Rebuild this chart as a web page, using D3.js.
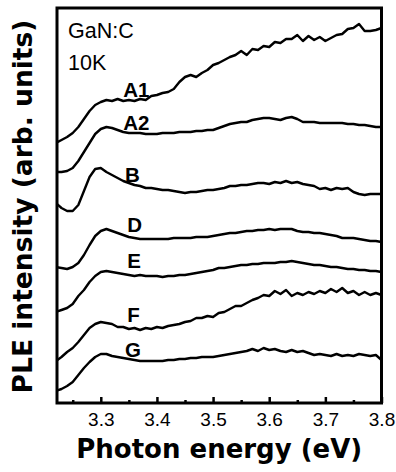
<!DOCTYPE html>
<html>
<head>
<meta charset="utf-8">
<script src="https://cdn.jsdelivr.net/npm/d3@7"></script>
<style>
  body { margin: 0; background: #fff; }
</style>
</head>
<body>
<div id="chart"></div>
<script>
// photon energy grid (eV), 0.01 step
const energy = d3.range(59).map((i) => +(3.22 + i * 0.01).toFixed(2));

// PLE intensity (arb. units, curves offset vertically as in the figure)
const A1 = [257,260,263,267,273,281,289,295,298,300, 299,301,299,300,299,301,300,304,305,307,
  308,311,318,323,325,323,327,330,335,337, 340,343,345,349,345,351,350,354,353,358,
  357,361,361,365,359,364,360,363,359,362, 365,366,371,372,376,369,369,370,372];
const A2 = [228,228,229,232,239,248,257,266,271,273, 272,270,268,267,267,267,266,266,266,267,
  267,267,268,268,268,269,269,270,270,272, 274,276,277,278,278,280,281,282,282,281,
  280,282,283,281,278,278,278,277,277,277, 277,277,276,276,275,275,274,273,273];
const B = [197,192,189,189,195,209,223,231,232,228, 225,222,219,217,215,214,212,212,211,210,
  210,209,208,207,208,208,209,210,210,211, 212,214,214,215,215,216,217,217,216,218,
  217,219,217,218,216,215,214,211,212,210, 212,211,212,208,206,205,206,206,206];
const D = [133,132,131,133,137,145,155,164,169,171, 169,167,165,163,162,161,161,161,161,161,
  161,162,162,162,162,163,163,163,164,165, 166,167,167,168,169,169,170,170,171,170,
  171,171,171,169,168,168,167,167,166,165, 164,162,162,162,161,160,159,159,158];
const E = [88,90,92,96,104,110,118,124,128,129, 128,127,126,125,124,125,124,124,124,123,
  124,124,125,125,126,127,128,129,130,132, 132,133,134,135,135,136,136,137,137,137,
  138,138,139,138,137,136,135,135,134,133, 133,132,131,131,130,130,129,129,128];
const F = [39,43,48,52,58,65,72,76,78,77, 76,73,73,71,72,70,72,71,73,72,
  74,75,76,78,79,82,82,84,83,87, 88,91,94,94,97,100,102,105,104,109,
  106,110,104,107,105,108,106,109,107,111, 108,112,107,109,105,108,105,107,105];
const G = [9,11,14,18,25,32,38,43,46,46, 44,43,42,41,40,39,39,39,39,39,
  40,40,41,41,42,42,43,43,43,44, 45,46,47,48,49,51,49,52,50,51,
  49,48,50,48,49,47,45,46,45,44, 46,44,45,44,46,45,44,45,40];

const sampleNames = ['A1', 'A2', 'B', 'D', 'E', 'F', 'G'];
const sampleSeries = [A1, A2, B, D, E, F, G];
// label anchor: energy and intensity
const labelEnergy = [3.34, 3.34, 3.343, 3.347, 3.347, 3.347, 3.343];
const labelLevel = [303, 270, 218, 168, 132, 78, 43];

const xTicks = [3.3, 3.4, 3.5, 3.6, 3.7, 3.8];
const xMinorTicks = [3.25, 3.35, 3.45, 3.55, 3.65, 3.75];

const width = 396;
const height = 472;
const plotLeft = 57, plotRight = 381.5, plotTop = 8, plotBottom = 403;

const svg = d3.select('#chart').append('svg').attr('width', width).attr('height', height);

const x = d3.scaleLinear().domain([3.222, 3.8]).range([plotLeft, plotRight]);
const y = d3.scaleLinear().domain([-3, 392]).range([plotBottom, plotTop]);

svg.append('clipPath').attr('id', 'plot-clip')
  .append('rect').attr('x', plotLeft).attr('y', plotTop)
  .attr('width', plotRight - plotLeft).attr('height', plotBottom - plotTop);

const line = d3.line().x((d) => x(d[0])).y((d) => y(d[1]));

svg.append('g').attr('clip-path', 'url(#plot-clip)')
  .selectAll('path')
  .data(sampleSeries)
  .join('path')
  .attr('fill', 'none')
  .attr('stroke', '#000')
  .attr('stroke-width', 2.4)
  .attr('stroke-linejoin', 'round')
  .attr('d', (s) => line(s.map((v, i) => [energy[i], v])));

svg.append('g')
  .attr('font-family', 'Liberation Sans, Arial, sans-serif')
  .attr('font-weight', 'bold')
  .attr('font-size', 20.5)
  .selectAll('text')
  .data(sampleNames)
  .join('text')
  .attr('x', (d, i) => x(labelEnergy[i]))
  .attr('y', (d, i) => y(labelLevel[i]))
  .text((d) => d);

// bottom axis, ticks pointing inward
const axisMajor = d3.axisBottom(x).tickValues(xTicks).tickSize(-6).tickPadding(9.5).tickFormat(d3.format('.1f'));
const axisMinor = d3.axisBottom(x).tickValues(xMinorTicks).tickSize(-3).tickFormat('');

const gx = svg.append('g').attr('transform', `translate(0,${plotBottom})`).call(axisMajor);
svg.append('g').attr('transform', `translate(0,${plotBottom})`).call(axisMinor)
  .call((g) => g.select('.domain').remove())
  .selectAll('line').attr('stroke-width', 2.5);
gx.select('.domain').remove();
gx.selectAll('line').attr('stroke-width', 2.5);
gx.selectAll('text').attr('font-size', 19).attr('font-family', 'Liberation Sans, Arial, sans-serif').attr('fill', '#000');

svg.append('rect')
  .attr('x', plotLeft).attr('y', plotTop)
  .attr('width', plotRight - plotLeft).attr('height', plotBottom - plotTop)
  .attr('fill', 'none').attr('stroke', '#000').attr('stroke-width', 3);

const note = svg.append('g').attr('font-family', 'Liberation Sans, Arial, sans-serif').attr('font-size', 21.5);
note.append('text').attr('x', 68).attr('y', 38).text('GaN:C');
note.append('text').attr('x', 68).attr('y', 70).text('10K');

svg.append('text')
  .attr('x', (plotLeft + plotRight) / 2).attr('y', 458)
  .attr('text-anchor', 'middle')
  .attr('font-family', 'DejaVu Sans, sans-serif').attr('font-weight', 'bold').attr('font-size', 26)
  .text('Photon energy (eV)');

svg.append('text')
  .attr('transform', `translate(32,${(plotTop + plotBottom) / 2 + 1}) rotate(-90)`)
  .attr('text-anchor', 'middle')
  .attr('font-family', 'DejaVu Sans, sans-serif').attr('font-weight', 'bold').attr('font-size', 26.5)
  .text('PLE intensity (arb. units)');
</script>
</body>
</html>
